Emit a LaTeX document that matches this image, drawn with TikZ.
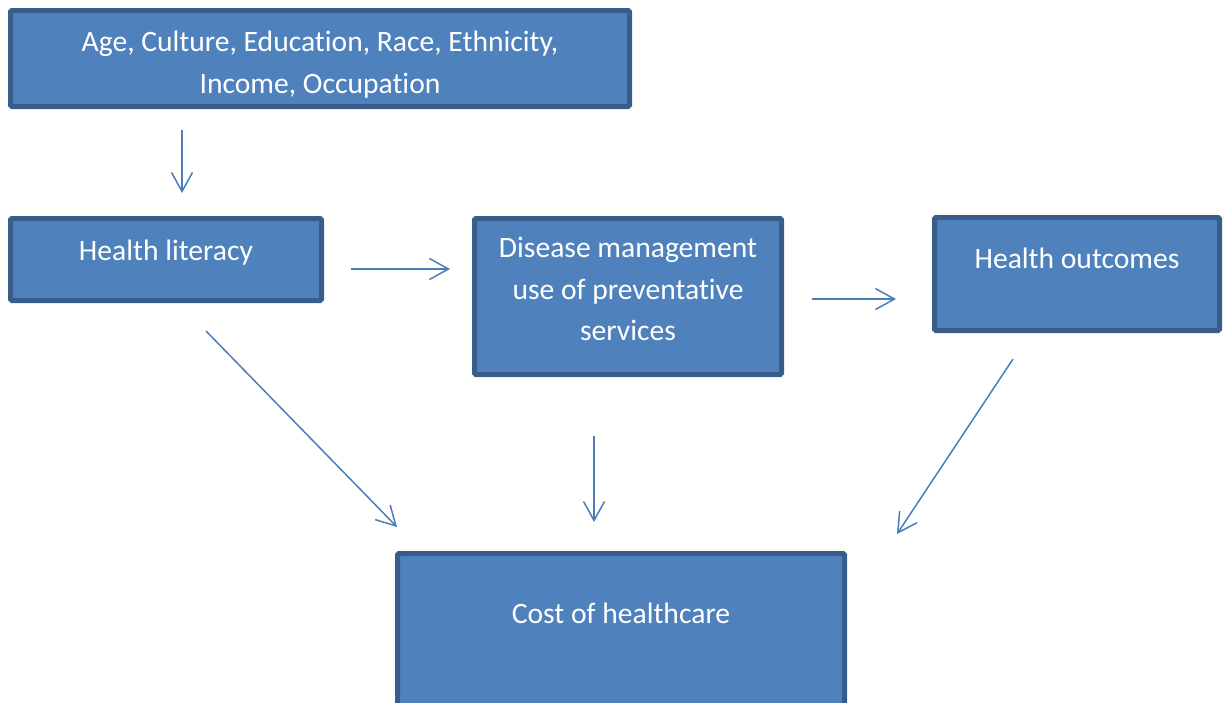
\documentclass[tikz,border=0pt]{standalone}
\usepackage{fontspec}
\setmainfont{Carlito}[Ligatures=NoCommon]
\usetikzlibrary{positioning,arrows.meta}

\definecolor{boxfill}{HTML}{4F81BD}
\definecolor{boxline}{HTML}{385D8A}
\definecolor{linkcol}{HTML}{4A7EBB}

\tikzset{
  factorbox/.style={draw=boxline, fill=boxfill, line width=5pt, rounded corners=1.5pt, inner sep=0pt},
  boxtext/.style={text=white, anchor=north, inner sep=0pt, align=center,
    font=\fontsize{29.6}{41.5}\selectfont, execute at begin node=\strut},
  link/.style={draw=linkcol, line width=1.5pt, -{Straight Barb[length=19pt,width=21pt]}}
}

\begin{document}
\begin{tikzpicture}[x=1pt,y=-1pt]
    \useasboundingbox (0,0) rectangle (1223,702);

    \node[factorbox, minimum width=619pt, minimum height=96pt] (factors) at (320,58.5) {};
    \node[factorbox, minimum width=311pt, minimum height=82pt] (literacy) at (166,259.5) {};
    \node[factorbox, minimum width=307pt, minimum height=156pt] (management) at (628,296.5) {};
    \node[factorbox, minimum width=285pt, minimum height=113pt] (outcomes) at (1077,274) {};
    \node[factorbox, minimum width=447pt, minimum height=200pt] (cost) at (621,653.5) {};

    \node[boxtext, below=23pt of factors.north] (factorstext) {Age, Culture, Education, Race, Ethnicity,\\Income, Occupation};
    \node[boxtext, below=15pt of literacy.north] (literacytext) {Health literacy};
    \node[boxtext, below=21pt of management.north] (managementtext) {Disease management\\use of preventative\\services};
    \node[boxtext, below=24pt of outcomes.north] (outcomestext) {Health outcomes};
    \node[boxtext, below=43pt of cost.north] (costtext) {Cost of healthcare};

    \coordinate (factorsout) at (182,130);
    \coordinate (literacyin) at (182,193);
    \coordinate (literacyout) at (351,269);
    \coordinate (managementin) at (450,269);
    \coordinate (managementout) at (812,299);
    \coordinate (outcomesin) at (896,299);
    \coordinate (literacydown) at (206,331);
    \coordinate (costleft) at (397,527);
    \coordinate (managementdown) at (594,436);
    \coordinate (costmid) at (594,522);
    \coordinate (outcomesdown) at (1013,359);
    \coordinate (costright) at (897,534);

    \draw[link] (factorsout) -- (literacyin);
    \draw[link] (literacyout) -- (managementin);
    \draw[link] (managementout) -- (outcomesin);
    \draw[link] (literacydown) -- (costleft);
    \draw[link] (managementdown) -- (costmid);
    \draw[link] (outcomesdown) -- (costright);
\end{tikzpicture}
\end{document}
